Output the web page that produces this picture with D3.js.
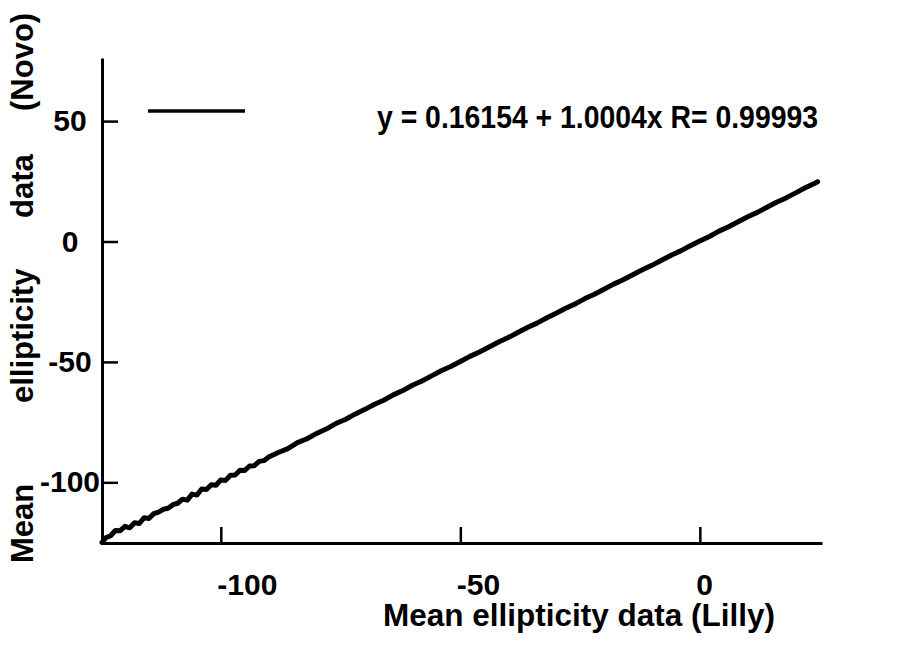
<!DOCTYPE html>
<html>
<head>
<meta charset="utf-8">
<script src="https://cdn.jsdelivr.net/npm/d3@7"></script>
<style>
body { margin: 0; background: #fff; }
text { font-family: "Liberation Sans", Arial, Helvetica, sans-serif; font-weight: bold; fill: #000; }
</style>
</head>
<body>
<div id="chart"></div>
<script>
// CD spectra comparison, Lilly vs Novo
const lillyX = [-124.8,-124,-123,-122,-121,-120,-119,-118,-117,-116,-115,-114,-113,-112,-111,-110,
  -109,-108,-107,-106,-105,-104,-103,-102,-101,-100,-99,-98,-97,-96,-95,-94,-93,-92,-91,-90,
  -88,-86,-84,-82,-80,-78,-76,-74,-72,-70,-68,-66,-64,-62,-60,-58,-56,-54,-52,-50,-48,-46,-44,
  -42,-40,-38,-36,-34,-32,-30,-28,-26,-24,-22,-20,-18,-16,-14,-12,-10,-8,-6,-4,-2,0,2,4,6,8,
  10,12,14,16,18,20,22,24,24.6];
const novoY = [-125.0,-123.0,-122.2,-120.0,-120.1,-118.3,-118.9,-116.8,-117.1,-114.7,-115.0,-113.0,
  -112.4,-111.2,-110.8,-109.3,-108.7,-107.0,-107.4,-104.9,-105.3,-102.8,-103.0,-101.0,-101.2,-99.0,
  -99.2,-97.1,-97.0,-95.0,-95.1,-93.2,-93.1,-91.3,-91.0,-89.5,
  -87.6,-86.0,-83.5,-81.9,-79.7,-77.9,-75.6,-73.9,-71.7,-69.8,-67.7,-65.9,-63.7,-61.9,-59.7,-57.9,
  -55.8,-53.7,-51.9,-49.8,-47.7,-45.9,-43.8,-41.7,-39.9,-37.8,-35.7,-33.9,-31.8,-29.8,-27.7,-25.9,
  -23.7,-21.9,-19.8,-17.7,-15.9,-13.8,-11.7,-9.9,-7.8,-5.7,-3.9,-1.8,0.2,2.1,4.3,6.1,8.2,
  10.3,12.1,14.2,16.3,18.1,20.2,22.3,24.2,24.8];

const xTicks = [-100, -50, 0];
const yTicks = [50, 0, -50, -100];
const fitLabel = 'y = 0.16154 + 1.0004x R= 0.99993';
const xTitle = 'Mean ellipticity data (Lilly)';
const yTitle = ['Mean', 'ellipticity', 'data', '(Novo)'];

const W = 919, H = 647;
const svg = d3.select('#chart').append('svg')
  .attr('width', W).attr('height', H);

const x = d3.scaleLinear().domain([-124.8, 25.5]).range([102, 822]);
const y = d3.scaleLinear().domain([-125.2, 76.2]).range([543, 58]);
const fmt = d => String(d);  // plain hyphen, not the unicode minus

// x axis, ticks pointing up, labels left-aligned on the tick
const gx = svg.append('g')
  .attr('transform', 'translate(0,' + y.range()[0] + ')')
  .call(d3.axisBottom(x).tickValues(xTicks).tickFormat(fmt)
    .tickSize(-16).tickSizeOuter(0).tickPadding(31));
gx.selectAll('text').attr('text-anchor', 'start').attr('x', -4)
  .style('font-size', '30px').attr('font-family', null);

// y axis, ticks pointing right
const gy = svg.append('g')
  .attr('transform', 'translate(' + x.range()[0] + ',0)')
  .call(d3.axisLeft(y).tickValues(yTicks).tickFormat(fmt)
    .tickSize(-16).tickSizeOuter(0).tickPadding(32));
gy.selectAll('text').attr('text-anchor', 'middle')
  .style('font-size', '30px').attr('font-family', null);

svg.selectAll('.domain').attr('stroke', '#000').attr('stroke-width', 3);
svg.selectAll('.tick line').attr('stroke', '#000').attr('stroke-width', 2.5);

// data curve
const pts = lillyX.map((v, i) => [v, novoY[i]]);
svg.append('path')
  .attr('d', d3.line().x(d => x(d[0])).y(d => y(d[1]))(pts))
  .attr('fill', 'none')
  .attr('stroke', '#000')
  .attr('stroke-width', 5)
  .attr('stroke-linejoin', 'round')
  .attr('stroke-linecap', 'round');

// legend
svg.append('line')
  .attr('x1', 148).attr('x2', 245).attr('y1', 111).attr('y2', 111)
  .attr('stroke', '#000').attr('stroke-width', 3.5);
svg.append('text')
  .attr('x', 377).attr('y', 128)
  .attr('textLength', 441).attr('lengthAdjust', 'spacingAndGlyphs')
  .style('font-size', '32px')
  .text(fitLabel);

// axis titles
svg.append('text')
  .attr('x', 383).attr('y', 626)
  .attr('textLength', 392).attr('lengthAdjust', 'spacingAndGlyphs')
  .style('font-size', '31px')
  .text(xTitle);

// the y title words sit far apart in the original
const yWordAt = [0, 160, 345, 452];
svg.append('text')
  .attr('transform', 'translate(33,563) rotate(-90)')
  .style('font-size', '31px')
  .selectAll('tspan').data(yTitle).join('tspan')
  .attr('x', (d, i) => yWordAt[i])
  .text(d => d);
</script>
</body>
</html>
